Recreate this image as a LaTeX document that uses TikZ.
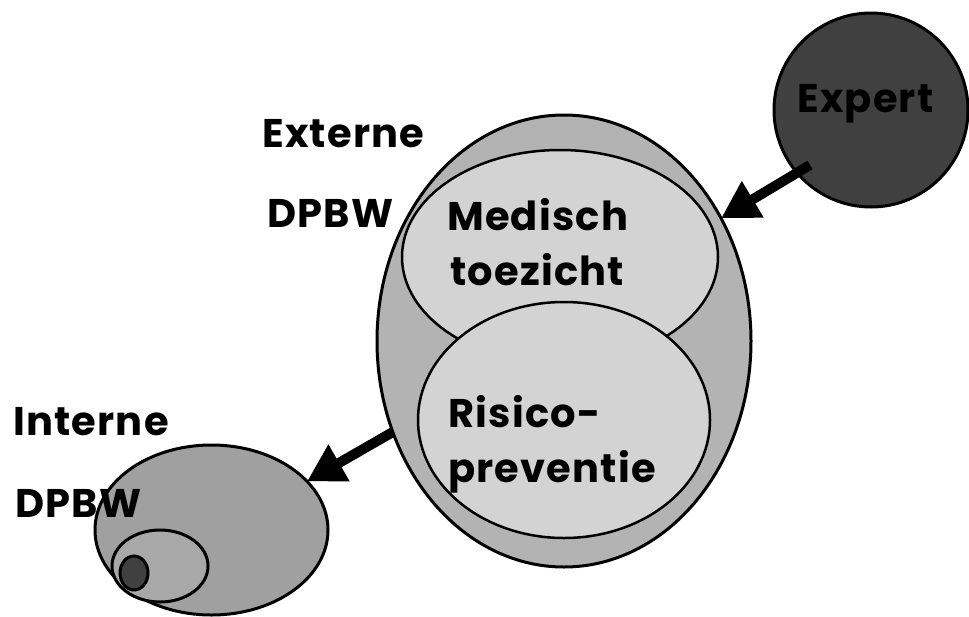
\documentclass[tikz,border=0pt]{standalone}
\usepackage{fontspec}
\setmainfont{Poppins}[LetterSpace=3]
\usetikzlibrary{shapes.geometric,arrows.meta}
\definecolor{outergray}{RGB}{179,179,179}
\definecolor{innergray}{RGB}{211,211,211}
\definecolor{darkgray2}{RGB}{64,64,64}
\definecolor{smallgray}{RGB}{160,160,160}
\definecolor{midgray}{RGB}{168,168,168}
\tikzset{
  blob/.style={ellipse, draw=black, inner sep=0pt, outer sep=0pt},
  lbl/.style={anchor=base west, inner sep=0pt, font=\bfseries\fontsize{40}{44}\selectfont},
  bigarrow/.style={line width=10pt, -{Triangle[length=37pt,width=40pt]}}
}
\begin{document}
\begin{tikzpicture}[x=1pt,y=-1pt]
\useasboundingbox (0,0) rectangle (969,616);
% large ellipse
\node[blob, fill=outergray, line width=3pt, minimum width=374pt, minimum height=452pt] (big) at (564,341) {};
\node[blob, fill=innergray, line width=2.5pt, minimum width=316pt, minimum height=214pt] (med) at (560,257) {};
\node[blob, fill=innergray, line width=2.5pt, minimum width=292pt, minimum height=236pt] (ris) at (564,420) {};
% small group
\node[blob, fill=smallgray, line width=3pt, minimum width=233pt, minimum height=170pt] (small) at (211.5,530) {};
\node[blob, fill=midgray, line width=3pt, minimum width=96pt, minimum height=72pt] (mid) at (160,566) {};
\node[blob, fill=darkgray2, line width=3pt, minimum width=28pt, minimum height=34pt] (tiny) at (134,573) {};
% expert
\node[circle, draw=black, fill=darkgray2, line width=3pt, minimum size=194pt, inner sep=0pt, outer sep=0pt] (expert) at (871,110) {};
% arrows
\coordinate (es) at (810,165);
\draw[bigarrow] (es) -- (big.38);
\draw[bigarrow] (big.208) -- (small.27);
% texts
\node[lbl] (ext1) at (262,147) {Externe};
\node[lbl] (ext2) at (267,227) {DPBW};
\node[lbl] (med1) at (447,230) {Medisch};
\node[lbl] (med2) at (450,285) {toezicht};
\node[lbl] (ris1) at (448,427) {Risico-};
\node[lbl] (ris2) at (448,482) {preventie};
\node[lbl] (int1) at (13,435) {Interne};
\node[lbl] (int2) at (15,517) {DPBW};
\node[lbl] (exp) at (797,112) {Expert};
\end{tikzpicture}
\end{document}
